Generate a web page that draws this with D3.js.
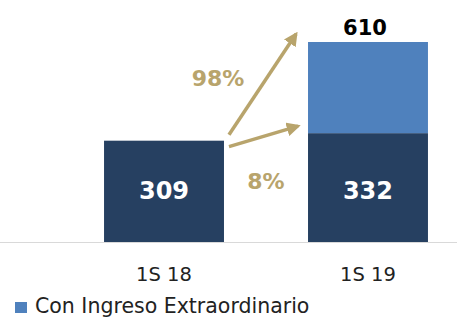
<!DOCTYPE html>
<html>
<head>
<meta charset="utf-8">
<script src="https://cdn.jsdelivr.net/npm/d3@7"></script>
<style>
  html, body { margin: 0; padding: 0; background: #fff; }
  svg { display: block; }
  text { font-family: "DejaVu Sans", sans-serif; }
</style>
</head>
<body>
<svg id="chart" width="457" height="318"></svg>
<script>
// Ingreso 1S 18 vs 1S 19, stacked base + extraordinario
const categories = ['1S 18', '1S 19'];
const baseValues = [309, 332];
const extraValues = [0, 278];
const totalLabels = [null, 610];
const growthLabels = ['98%', '8%'];
const legendLabel = 'Con Ingreso Extraordinario';

const W = 457;
const DARK = '#264061', LIGHT = '#4F81BD', GOLD = '#B8A46C';

const svg = d3.select('#chart');

// band range picked so the bars sit at 104..224 and 308..428
const x = d3.scaleBand().domain(categories).range([20, 512]).padding(0.412);
const bw = x.bandwidth();
const y = d3.scaleLinear().domain([0, 610]).range([242, 42]);

// baseline
svg.append('line')
  .attr('x1', 0).attr('x2', W).attr('y1', 242.5).attr('y2', 242.5)
  .attr('stroke', '#d9d9d9').attr('stroke-width', 1);

const stacked = categories.map((c, i) => ({ c, base: baseValues[i], extra: extraValues[i], total: totalLabels[i] }));

svg.append('g').selectAll('rect').data(stacked).join('rect')
  .attr('x', d => x(d.c)).attr('width', bw)
  .attr('y', d => y(d.base)).attr('height', d => y(0) - y(d.base))
  .attr('fill', DARK);

svg.append('g').selectAll('rect').data(stacked.filter(d => d.extra > 0)).join('rect')
  .attr('x', d => x(d.c)).attr('width', bw)
  .attr('y', d => y(d.base + d.extra)).attr('height', d => y(d.base) - y(d.base + d.extra))
  .attr('fill', LIGHT);

// value labels inside the base bars
svg.append('g').selectAll('text').data(stacked).join('text')
  .attr('x', d => x(d.c) + bw / 2).attr('y', 199)
  .attr('text-anchor', 'middle').attr('fill', '#fff')
  .attr('font-size', 24).attr('font-weight', 700)
  .text(d => d.base);

// total label
svg.append('g').selectAll('text').data(stacked.filter(d => d.total != null)).join('text')
  .attr('x', d => x(d.c) + bw / 2 - 3).attr('y', 35)
  .attr('text-anchor', 'middle').attr('fill', '#000')
  .attr('font-size', 21).attr('font-weight', 700)
  .text(d => d.total);

// category axis labels
svg.append('g').selectAll('text').data(categories).join('text')
  .attr('x', c => x(c) + bw / 2).attr('y', 281)
  .attr('text-anchor', 'middle').attr('fill', '#222')
  .attr('font-size', 19.5)
  .text(c => c);

// growth arrows
svg.append('defs').append('marker')
  .attr('id', 'head').attr('viewBox', '0 0 10 10')
  .attr('refX', 8).attr('refY', 5)
  .attr('markerWidth', 4).attr('markerHeight', 4)
  .attr('orient', 'auto')
  .append('path').attr('d', 'M0,0 L10,5 L0,10 z').attr('fill', GOLD);

const x0 = x(categories[0]) + bw + 5;
const x1 = x(categories[1]) - 8;
const arrows = [
  { from: [x0, y(baseValues[0]) - 6], to: [x1 - 4, y(baseValues[1] + extraValues[1]) - 8] },
  { from: [x0, y(baseValues[0]) + 6], to: [x1 - 2, y(baseValues[1]) - 7] }
];
svg.append('g').selectAll('line').data(arrows).join('line')
  .attr('x1', d => d.from[0]).attr('y1', d => d.from[1])
  .attr('x2', d => d.to[0]).attr('y2', d => d.to[1])
  .attr('stroke', GOLD).attr('stroke-width', 3.5)
  .attr('marker-end', 'url(#head)');

svg.append('g').selectAll('text').data(growthLabels).join('text')
  .attr('x', (d, i) => i === 0 ? 218 : 266)
  .attr('y', (d, i) => i === 0 ? 86 : 189)
  .attr('text-anchor', 'middle').attr('fill', GOLD)
  .attr('font-size', 22).attr('font-weight', 700)
  .text(d => d);

// legend
const lg = svg.append('g').attr('transform', 'translate(15,304)');
lg.append('rect').attr('y', -2).attr('width', 12).attr('height', 11).attr('fill', LIGHT);
lg.append('text').attr('x', 20).attr('y', 8.5)
  .attr('font-size', 20.5).attr('fill', '#222')
  .text(legendLabel);
</script>
</body>
</html>
